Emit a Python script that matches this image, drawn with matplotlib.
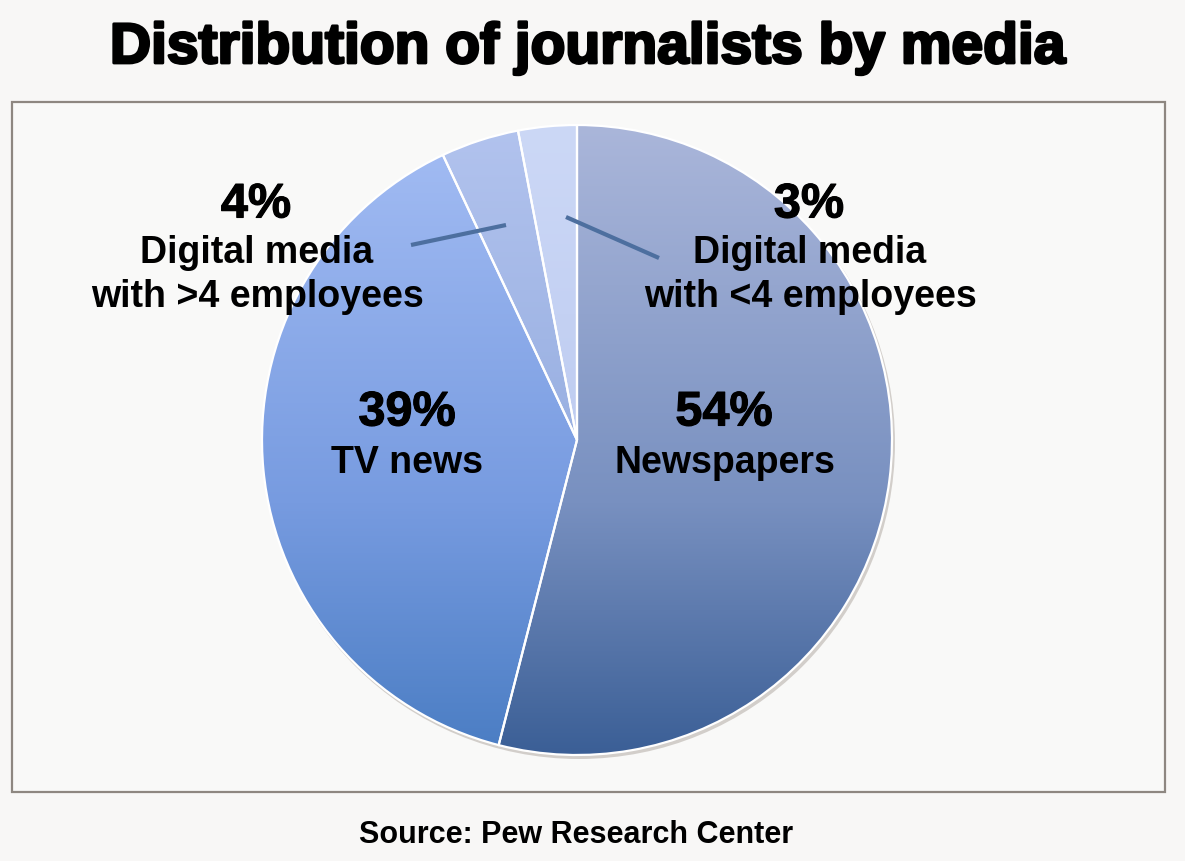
import matplotlib.pyplot as plt
import matplotlib.patheffects as pe
import numpy as np
from matplotlib.colors import LinearSegmentedColormap
from matplotlib.patches import Rectangle

# data
categories = ["Newspapers", "TV news", "Digital media\nwith >4 employees", "Digital media\nwith <4 employees"]
shares = [54, 39, 4, 3]
pct_labels = ["54%", "39%", "4%", "3%"]
# top / middle / bottom gradient colours per slice
grad_top = ["#aab6da", "#a4bdf4", "#b2c3ee", "#ccd8f6"]
grad_mid = ["#7890c0", "#779be0", "#94acdf", "#bccaf0"]
grad_bot = ["#3b5f96", "#4a7dc3", "#6f8fcf", "#a9bdee"]

W, H = 1185, 861
plt.rcParams['font.family'] = ['Liberation Sans', 'DejaVu Sans']

fig = plt.figure(figsize=(W / 100, H / 100), dpi=100, facecolor="#f8f7f6")
ax = fig.add_axes([0, 0, 1, 1])

# chart frame
ax.add_patch(Rectangle((12, H - 792), 1153, 690, facecolor="#f9f9f8",
                       edgecolor="#8e8781", lw=1.6, zorder=0))

cx, cy, r = 577, H - 440, 315

# soft shadow under the pie
shadow = plt.Circle((cx + 2, cy - 3), r + 1, color="#8a7f76", alpha=0.35, lw=0, zorder=1)
ax.add_patch(shadow)

wedges, _ = ax.pie(shares, center=(cx, cy), radius=r, startangle=90,
                   counterclock=False, frame=True,
                   wedgeprops=dict(facecolor='none', edgecolor='white', linewidth=1.6))
for w in wedges:
    w.set_zorder(4)

ax.set_xlim(0, W)
ax.set_ylim(0, H)
ax.set_aspect('equal')
ax.axis('off')

grad = np.linspace(0, 1, 256).reshape(-1, 1)
for w, top, mid, bot in zip(wedges, grad_top, grad_mid, grad_bot):
    cmap = LinearSegmentedColormap.from_list("g", [(0, top), (0.6, mid), (1, bot)])
    im = ax.imshow(grad, cmap=cmap, extent=(cx - r, cx + r, cy - r, cy + r),
                   origin='upper', aspect='auto', zorder=3)
    im.set_clip_path(w)

# leader lines for the two small slices
ax.plot([411, 506], [H - 245, H - 225], color="#4d6f9f", lw=3, zorder=5, solid_capstyle='butt')
ax.plot([566, 659], [H - 217, H - 258], color="#4d6f9f", lw=3, zorder=5, solid_capstyle='butt')

# labels
pct_pos = [(724, 413), (407, 413), (256, 205), (809, 205)]
name_pos = [(725, 463), (407, 463), (257, 275), (810, 275)]
for p, n, (px, py), (nx, ny) in zip(pct_labels, categories, pct_pos, name_pos):
    ax.text(px, H - py, p, fontsize=35, fontweight='bold', ha='center', va='center', zorder=6,
            path_effects=[pe.withStroke(linewidth=0.8, foreground='black')])
    ax.text(nx, H - ny, n, fontsize=27, fontweight='bold', ha='center', va='center',
            linespacing=1.3, zorder=6)

ax.text(W / 2 - 4, H - 48, "Distribution of journalists by media", fontsize=41,
        fontweight='bold', ha='center', va='center',
        path_effects=[pe.withStroke(linewidth=2, foreground='black')])
ax.text(576, H - 835, "Source: Pew Research Center", fontsize=22, fontweight='bold',
        ha='center', va='center')

fig.savefig("out.png", dpi=100, facecolor=fig.get_facecolor())
